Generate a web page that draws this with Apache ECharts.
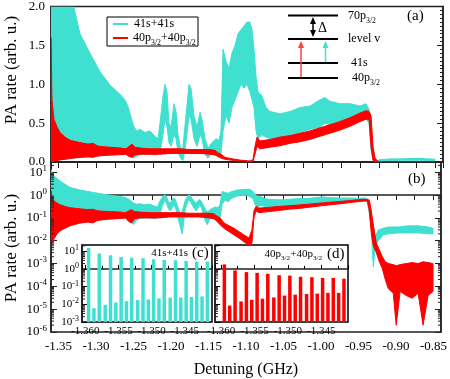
<!DOCTYPE html>
<html>
<head>
<meta charset="utf-8">
<script src="https://cdn.jsdelivr.net/npm/echarts@6/dist/echarts.min.js"></script>
<style>
  html, body { margin: 0; padding: 0; background: #fff; }
  #chart { width: 450px; height: 379px; }
</style>
</head>
<body>
<div id="chart"></div>
<script>
// detuning grid (GHz) and the envelope of the fast oscillating PA rate
const cyanX = [-1.3600,-1.3587,-1.3560,-1.3520,-1.3481,-1.3414,-1.3348,-1.3215,-1.3083,
  -1.2950,-1.2817,-1.2685,-1.2618,-1.2578,-1.2539,-1.2499,-1.2459,-1.2419,-1.2353,
  -1.2287,-1.2220,-1.2181,-1.2154,-1.2114,-1.2088,-1.2061,-1.2035,-1.2008,-1.1968,
  -1.1942,-1.1915,-1.1875,-1.1849,-1.1809,-1.1769,-1.1743,-1.1703,-1.1663,-1.1623,
  -1.1597,-1.1557,-1.1517,-1.1464,-1.1411,-1.1371,-1.1345,-1.1318,-1.1278,-1.1239,
  -1.1199,-1.1159,-1.1119,-1.1080,-1.1040,-1.1000,-1.0960,-1.0934,-1.0907,-1.0880,
  -1.0854,-1.0801,-1.0748,-1.0695,-1.0562,-1.0429,-1.0297,-1.0164,-1.0031,-0.9965,
  -0.9899,-0.9766,-0.9633,-0.9501,-0.9421,-0.9381,-0.9355,-0.9328,-0.9302,-0.9275,
  -0.9235,-0.9169,-0.9103,-0.8970,-0.8837,-0.8705,-0.8572,-0.8506];
const cyanLo = [0.0075,0.010,0.016,0.023,0.030,0.037,0.045,0.058,0.068,
  0.080,0.085,0.095,0.098,0.100,0.070,0.052,0.080,0.095,0.100,
  0.100,0.090,0.100,0.120,0.350,0.550,0.450,0.250,0.200,0.350,
  0.300,0.120,0.040,0.020,0.250,0.600,0.550,0.300,0.200,0.350,
  0.300,0.100,0.050,0.120,0.150,0.120,0.100,0.400,0.600,0.500,
  0.700,0.800,0.900,1.000,0.950,1.000,0.900,0.800,0.700,0.400,
  0.300,0.350,0.320,0.300,0.320,0.350,0.380,0.420,0.450,0.500,
  0.480,0.500,0.520,0.550,0.550,0.500,0.150,0.030,0.0007,0.006,
  0.010,0.018,0.020,0.022,0.022,0.022,0.020,0.020];
const cyanHi = [13,10,7,5.3,4.2,3.0,2.2,1.65,1.40,
  1.16,0.99,0.87,0.80,0.71,0.58,0.45,0.40,0.42,0.38,
  0.40,0.33,0.30,0.50,0.85,1.00,0.90,0.50,0.45,0.75,
  0.65,0.35,0.15,0.20,0.60,1.00,0.95,0.60,0.45,0.64,
  0.55,0.30,0.18,0.25,0.30,0.28,0.40,1.45,1.30,1.20,
  1.40,1.50,1.65,1.70,1.75,1.80,1.80,1.70,1.45,1.10,
  0.90,0.85,0.70,0.65,0.62,0.65,0.70,0.72,0.80,0.83,
  0.78,0.75,0.75,0.72,0.75,0.68,0.50,0.10,0.012,0.016,
  0.030,0.035,0.040,0.040,0.045,0.045,0.040,0.035];

const redX = [-1.3600,-1.3587,-1.3560,-1.3520,-1.3481,-1.3414,-1.3348,-1.3215,-1.3109,-1.3043,
  -1.2990,-1.2950,-1.2817,-1.2685,-1.2605,-1.2565,-1.2525,-1.2486,-1.2419,-1.2287,
  -1.2154,-1.2021,-1.1889,-1.1756,-1.1623,-1.1491,-1.1424,-1.1385,-1.1345,-1.1292,
  -1.1225,-1.1159,-1.1093,-1.1026,-1.0960,-1.0920,-1.0894,-1.0867,-1.0827,-1.0761,
  -1.0695,-1.0562,-1.0429,-1.0297,-1.0164,-1.0031,-0.9899,-0.9766,-0.9633,-0.9501,
  -0.9421,-0.9381,-0.9355,-0.9328,-0.9302,-0.9262,-0.9222,-0.9182,-0.9143,-0.9103,
  -0.9036,-0.8997,-0.8944,-0.8864,-0.8784,-0.8705,-0.8638,-0.8572,-0.8506];
const redLo = [0.006,0.008,0.012,0.020,0.027,0.035,0.045,0.060,0.066,0.060,
  0.075,0.080,0.090,0.095,0.100,0.070,0.060,0.090,0.100,0.100,
  0.100,0.110,0.110,0.110,0.110,0.100,0.090,0.070,0.050,0.035,
  0.025,0.018,0.013,0.009,0.006,0.008,0.100,0.200,0.170,0.180,
  0.190,0.210,0.240,0.260,0.290,0.330,0.370,0.410,0.460,0.520,
  0.550,0.550,0.200,0.020,0.006,0.003,0.0012,0.0006,0.0002,0.00008,
  0.00005,0.000002,0.00006,0.00004,0.00003,0.00005,0.000002,0.00004,0.00006];
const redHi = [1.60,0.80,0.55,0.45,0.38,0.32,0.28,0.25,0.23,0.24,
  0.21,0.20,0.19,0.18,0.17,0.20,0.23,0.19,0.18,0.17,
  0.17,0.17,0.17,0.16,0.16,0.16,0.15,0.12,0.10,0.060,
  0.045,0.035,0.025,0.018,0.013,0.030,0.200,0.320,0.270,0.280,
  0.290,0.320,0.340,0.370,0.400,0.440,0.480,0.520,0.570,0.630,
  0.660,0.650,0.600,0.200,0.050,0.008,0.004,0.002,0.0012,0.0010,
  0.0009,0.0008,0.0009,0.0010,0.0011,0.0010,0.0012,0.0011,0.0010];

// insets (c) and (d): zoom on the first resonances
const insetX = [-1.3595,-1.3587,-1.3579,-1.3570,-1.3562,-1.3554,-1.3546,-1.3538,-1.3530,-1.3521,
  -1.3513,-1.3505,-1.3497,-1.3489,-1.3481,-1.3472,-1.3464,-1.3456,-1.3448,-1.3440,
  -1.3432,-1.3424,-1.3416];
const insetC = [15,0.006,7.4,0.0093,5.9,0.0127,4.7,0.015,4.3,0.0174,4.0,0.0188,3.5,0.0215,
  3.2,0.0236,3.1,0.0245,2.8,0.026,2.6,0.028,2.6];
const insetD = [1.8,0.0085,0.82,0.0145,0.66,0.018,0.6,0.0206,0.53,0.0245,0.44,0.031,0.42,0.035,
  0.36,0.038,0.34,0.04,0.31,0.044,0.31,0.044,0.28];

const CYAN = '#40e0d0'
const RED = '#ff0000'
const FONT = 'Liberation Serif'

const lin = v => v
const lg = v => Math.log10(v)

// band between lower and upper envelope, drawn as one polygon
function band(xi, yi, xs, lo, hi, color, f) {
  return {
    type: 'custom', xAxisIndex: xi, yAxisIndex: yi, silent: true, clip: true,
    data: xs.map((x, i) => [x, f(lo[i]), f(hi[i])]),
    renderItem: (params, api) => {
      if (params.dataIndex !== 0) return null
      const top = xs.map((x, i) => api.coord([x, f(hi[i])]))
      const bot = xs.map((x, i) => api.coord([x, f(lo[i])])).reverse()
      const cs = params.coordSys
      return {
        type: 'polygon',
        shape: { points: top.concat(bot) },
        style: { fill: color, stroke: color, lineWidth: 1 },
        clipPath: { type: 'rect', shape: { x: cs.x, y: cs.y, width: cs.width, height: cs.height } }
      }
    }
  }
}

function bars(xi, yi, vals, color) {
  return {
    type: 'custom', xAxisIndex: xi, yAxisIndex: yi, silent: true,
    data: insetX.map((x, i) => [x, Math.log10(vals[i])]),
    renderItem: (params, api) => {
      const top = api.coord([api.value(0), api.value(1)])
      const base = api.coord([api.value(0), -3])
      return {
        type: 'rect',
        shape: { x: top[0] - 1.75, y: top[1], width: 3.5, height: base[1] - top[1] },
        style: { fill: color }
      }
    }
  }
}

// log minor ticks (2..9 x 10^n) on the inner side of a log-exponent axis
function logMinor(xi, yi, lo, hi, side, len) {
  const pos = []
  for (let n = lo; n <= hi; n++) {
    for (let k = 2; k <= 9; k++) pos.push(n + Math.log10(k))
  }
  return {
    type: 'custom', xAxisIndex: xi, yAxisIndex: yi, silent: true, z: 5,
    data: pos.map(p => [0, p]),
    renderItem: (params, api) => {
      const cs = params.coordSys
      const y = api.coord([0, api.value(1)])[1]
      if (y < cs.y || y > cs.y + cs.height) return null
      const x0 = side === 'left' ? cs.x : cs.x + cs.width
      const x1 = side === 'left' ? x0 + len : x0 - len
      return { type: 'line', shape: { x1: x0, y1: y, x2: x1, y2: y }, style: { stroke: '#222', lineWidth: 1 } }
    }
  }
}

const pow10 = (size, sup) => ({
  formatter: v => '{b|10}{s|' + Math.round(v) + '}',
  rich: {
    b: { fontSize: size, fontFamily: FONT, color: '#000' },
    s: { fontSize: sup, fontFamily: FONT, color: '#000', verticalAlign: 'bottom', padding: [0, 0, size * 0.55, 0] }
  }
})

const frame = { lineStyle: { color: '#222', width: 1.5 } }

function mainX(grid, labels) {
  return {
    type: 'value', gridIndex: grid, min: -1.36, max: -0.84, splitNumber: 10,
    axisLine: frame, splitLine: { show: false },
    axisTick: { inside: false, length: labels ? 5 : 6, lineStyle: { color: '#222' } },
    minorTick: { show: true, splitNumber: 2, length: labels ? 5 : 6, lineStyle: { color: '#222' } },
    axisLabel: {
      show: labels, showMinLabel: false, showMaxLabel: false, margin: 8,
      formatter: v => v.toFixed(2), fontSize: 13, fontFamily: FONT, color: '#000'
    },
    name: labels ? 'Detuning (GHz)' : '', nameLocation: 'middle', nameGap: 30,
    nameTextStyle: { fontSize: 16, fontFamily: FONT, color: '#000' }
  }
}

function insetXAxis(grid, min, max) {
  return {
    type: 'value', gridIndex: grid, min: min, max: max, splitNumber: 4,
    axisLine: frame, splitLine: { show: false },
    axisTick: { inside: true, length: 4, lineStyle: { color: '#000' } },
    minorTick: { show: true, splitNumber: 2, length: 3, lineStyle: { color: '#000' } },
    axisLabel: {
      showMinLabel: false, showMaxLabel: false, margin: 4,
      formatter: v => v.toFixed(3), fontSize: 11, fontFamily: FONT, color: '#000'
    }
  }
}

const option = {
  animation: false,
  grid: [
    { left: 51, top: 6, width: 392, height: 156, show: true, borderColor: '#222', borderWidth: 1.5 },
    { left: 51, top: 162, width: 392, height: 176, show: true, borderColor: '#222', borderWidth: 1.5 },
    { left: 82, top: 245, width: 130, height: 77, show: true, borderColor: '#000', borderWidth: 1.5, backgroundColor: '#fff' },
    { left: 215, top: 245, width: 133, height: 77, show: true, borderColor: '#000', borderWidth: 1.5, backgroundColor: '#fff' }
  ],
  xAxis: [
    mainX(0, false),
    mainX(1, true),
    insetXAxis(2, -1.3605, -1.3409),
    insetXAxis(3, -1.3609, -1.3410)
  ],
  yAxis: [
    {
      type: 'value', gridIndex: 0, min: 0, max: 2, interval: 0.5,
      axisLine: frame, splitLine: { show: false },
      axisTick: { inside: true, length: 6, lineStyle: { color: '#222' } },
      minorTick: { show: true, splitNumber: 10, length: 3, lineStyle: { color: '#222' } },
      axisLabel: { formatter: v => v.toFixed(1), fontSize: 13, fontFamily: FONT, color: '#000', margin: 6 }
    },
    {
      type: 'value', gridIndex: 0, position: 'right', min: 0, max: 2, interval: 0.5,
      axisLine: frame, splitLine: { show: false },
      axisTick: { inside: true, length: 6, lineStyle: { color: '#222' } },
      minorTick: { show: true, splitNumber: 10, length: 3, lineStyle: { color: '#222' } },
      axisLabel: { show: false }
    },
    {
      type: 'value', gridIndex: 1, min: -6, max: 1.45, interval: 1,
      axisLine: frame, splitLine: { show: false },
      axisTick: { inside: true, length: 6, lineStyle: { color: '#222' } },
      axisLabel: Object.assign({ showMaxLabel: false, margin: 4 }, pow10(13, 9))
    },
    {
      type: 'value', gridIndex: 1, position: 'right', min: -6, max: 1.45, interval: 1,
      axisLine: frame, splitLine: { show: false },
      axisTick: { inside: true, length: 6, lineStyle: { color: '#222' } },
      axisLabel: { show: false }
    },
    {
      type: 'value', gridIndex: 2, min: -3, max: 1.35, interval: 1,
      axisLine: frame, splitLine: { show: false },
      axisTick: { inside: true, length: 5, lineStyle: { color: '#000' } },
      axisLabel: Object.assign({ showMaxLabel: false, margin: 3 }, pow10(11, 8))
    },
    {
      type: 'value', gridIndex: 3, min: -3, max: 1.35, interval: 1,
      axisLine: frame, splitLine: { show: false },
      axisTick: { inside: true, length: 5, lineStyle: { color: '#000' } },
      axisLabel: { show: false }
    }
  ],
  series: [
    band(0, 0, cyanX, cyanLo, cyanHi, CYAN, lin),
    band(0, 0, redX, redLo, redHi, RED, lin),
    band(1, 2, cyanX, cyanLo, cyanHi, CYAN, lg),
    band(1, 2, redX, redLo, redHi, RED, lg),
    bars(2, 4, insetC, CYAN),
    bars(3, 5, insetD, RED),
    logMinor(1, 2, -6, 1, 'left', 3),
    logMinor(1, 2, -6, 1, 'right', 3),
    logMinor(2, 4, -3, 1, 'left', 3),
    logMinor(3, 5, -3, 1, 'left', 3)
  ],
  graphic: []
}

const sub = { fontSize: 8, fontFamily: FONT, fill: '#000', verticalAlign: 'top', padding: [9, 0, 0, 0] }
const txt = (x, y, text, size, extra) => ({
  type: 'text', x: x, y: y, z: 20,
  style: Object.assign({ text: text, fontSize: size, fontFamily: FONT, fill: '#000', verticalAlign: 'middle', rich: { s: Object.assign({}, sub, { fontSize: size * 0.65 }) } }, extra || {})
})
const ln = (x1, y1, x2, y2, color, w) => ({ type: 'line', z: 20, shape: { x1, y1, x2, y2 }, style: { stroke: color, lineWidth: w } })
const head = (x, y, dir, color) => ({
  type: 'polygon', z: 20,
  shape: { points: [[x, y], [x - 3, y + 7 * dir], [x + 3, y + 7 * dir]] },
  style: { fill: color }
})

option.graphic = [
  // axis titles
  { type: 'text', x: 12, y: 70, rotation: Math.PI / 2, style: { text: 'PA rate (arb. u.)', fontSize: 17, fontFamily: FONT, fill: '#000', align: 'center', verticalAlign: 'middle' } },
  { type: 'text', x: 12, y: 248, rotation: Math.PI / 2, style: { text: 'PA rate (arb. u.)', fontSize: 17, fontFamily: FONT, fill: '#000', align: 'center', verticalAlign: 'middle' } },
  // legend
  { type: 'rect', z: 19, shape: { x: 107, y: 17, width: 91, height: 29 }, style: { fill: '#fff', stroke: '#000', lineWidth: 1 } },
  ln(113, 24, 128, 24, CYAN, 2),
  txt(134, 24, '41s+41s', 12),
  ln(113, 38, 128, 38, RED, 2),
  txt(133, 38, '40p{s|3/2}+40p{s|3/2}', 12),
  // level scheme
  ln(288, 15.5, 338, 15.5, '#000', 2),
  ln(288, 39, 338, 39, '#000', 2),
  ln(288, 63, 338, 63, '#000', 2),
  ln(288, 78, 338, 78, '#000', 2),
  txt(348, 16, '70p{s|3/2}', 12),
  txt(348, 39, 'level v', 12),
  txt(351, 63, '41s', 12),
  txt(352, 78, '40p{s|3/2}', 12),
  ln(313, 22, 313, 32, '#000', 1.5),
  head(313, 17, 1, '#000'),
  head(313, 37, -1, '#000'),
  txt(318, 28, 'Δ', 14),
  ln(301, 47, 301, 77, '#ff4040', 1.5),
  head(301, 41, 1, '#ff4040'),
  ln(325.5, 47, 325.5, 62, CYAN, 1.5),
  head(325.5, 41, 1, CYAN),
  // panel labels
  txt(407, 16, '(a)', 15),
  txt(408, 179, '(b)', 15),
  txt(188, 253, '41s+41s', 11, { align: 'right' }),
  txt(192, 253, '(c)', 15),
  txt(322, 254, '40p{s|3/2}+40p{s|3/2}', 11, { align: 'right' }),
  txt(327, 254, '(d)', 15)
]

const myChart = echarts.init(document.getElementById('chart'), null, { renderer: 'canvas' })
myChart.setOption(option)
</script>
</body>
</html>
